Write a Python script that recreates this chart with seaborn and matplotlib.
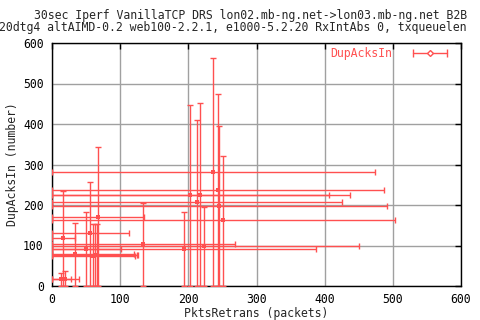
import matplotlib
matplotlib.use('Agg')
import matplotlib.pyplot as plt
import pandas as pd
import seaborn as sns

# DupAcksIn vs PktsRetrans, bars go from 0 up to the high value
pkts_retrans = [13.6, 18.6, 16.6, 34, 50.3, 56, 60.6, 63, 65.5, 68, 134, 194,
                203, 213, 217.5, 223, 236.5, 243, 245, 251]
dupacks_in = [16.5, 18, 118, 79, 90.6, 130, 75, 77, 76, 170, 103, 90.6,
              224, 207, 224, 98, 281, 236, 197, 162]
pkts_low = [0, 0, 0, 0, 0, 0, 0, 0, 0, 0, 0, 0, 0, 0, 0, 0, 0, 0, 0, 0]
pkts_high = [28, 40, 34, 120, 101.6, 113, 122, 124, 126, 135, 268, 388,
             407, 426, 437, 450, 474, 487, 492, 503]
dup_low = [0, 0, 0, 0, 0, 0, 0, 0, 0, 0, 0, 0, 0, 0, 0, 0, 0, 0, 0, 0]
dup_high = [31, 36, 234, 155, 182, 258, 152, 154, 153, 342, 205, 182,
            448, 411, 452, 196, 562, 473, 395, 322]

x_ticks = [0, 100, 200, 300, 400, 500, 600]
y_ticks = [0, 100, 200, 300, 400, 500, 600]

title1 = '30sec Iperf VanillaTCP DRS lon02.mb-ng.net->lon03.mb-ng.net B2B'
title2 = '20dtg4 altAIMD-0.2 web100-2.2.1, e1000-5.2.20 RxIntAbs 0, txqueuelen'

df = pd.DataFrame({'x': pkts_retrans, 'y': dupacks_in,
                   'xlo': pkts_low, 'xhi': pkts_high,
                   'ylo': dup_low, 'yhi': dup_high})

red = '#ff5050'
grey = '#a0a0a0'

sns.set_style('white')
plt.rcParams['font.family'] = ['DejaVu Sans Mono']
plt.rcParams['font.size'] = 8.3

fig = plt.figure(figsize=(4.8, 3.2), dpi=100)
ax = fig.add_axes([52 / 480, 34 / 320, 409 / 480, 243 / 320])

ax.errorbar(df['x'], df['y'],
            xerr=[df['x'] - df['xlo'], df['xhi'] - df['x']],
            yerr=[df['y'] - df['ylo'], df['yhi'] - df['y']],
            fmt='none', ecolor=red, elinewidth=1, capsize=2.5, capthick=1,
            zorder=3)
sns.scatterplot(data=df, x='x', y='y', ax=ax, marker='s', s=9, color=red,
                edgecolor=red, linewidth=0, zorder=4)

ax.set_xlim(0, 600)
ax.set_ylim(0, 600)
ax.set_xticks(x_ticks)
ax.set_yticks(y_ticks)
ax.grid(True, color=grey, linewidth=1)
ax.set_axisbelow(True)
ax.tick_params(direction='in', length=4, width=1, top=True, right=True,
               colors='black', labelsize=8.3)
ax.tick_params(axis='x', pad=5)
ax.tick_params(axis='y', pad=6)
for s in ax.spines.values():
    s.set_color('black')
    s.set_linewidth(1)

ax.set_xlabel('PktsRetrans (packets)', fontsize=8.3, labelpad=1)
ax.set_ylabel('DupAcksIn (number)', fontsize=8.3, labelpad=3)

# titles (second line starts right at the left edge like the original)
fig.text(251 / 480, 1 - 15 / 320, title1, ha='center', va='center', fontsize=8.3)
fig.text(-1 / 480, 1 - 27 / 320, title2, ha='left', va='center', fontsize=8.3)

# legend in gnuplot style: label on the left, sample on the right
ax.text((392 - 52) / 409, (286 - 53) / 243, 'DupAcksIn', color=red,
        transform=ax.transAxes, ha='right', va='center', fontsize=8.3)
lx = [(413 - 52) / 409, (447 - 52) / 409]
ly = (286 - 53) / 243
ax.plot(lx, [ly, ly], color=red, lw=1, transform=ax.transAxes)
ax.plot(lx, [ly, ly], color=red, lw=0, marker='|', ms=6, mew=1,
        transform=ax.transAxes)
ax.plot([sum(lx) / 2], [ly], color=red, marker='D', ms=3, mfc='white',
        mew=1, transform=ax.transAxes)

fig.savefig('out.png', dpi=100)
